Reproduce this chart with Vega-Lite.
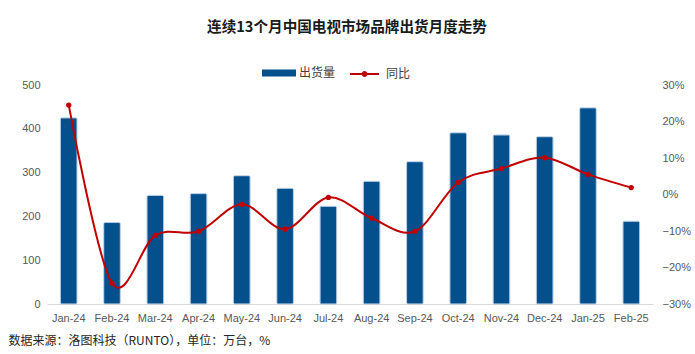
{
  "$schema": "https://vega.github.io/schema/vega-lite/v6.json",
  "width": 606,
  "height": 219,
  "autosize": {"type": "none"},
  "padding": {"left": 47, "top": 85, "right": 42, "bottom": 50},
  "background": "white",
  "title": {
    "text": "连续13个月中国电视市场品牌出货月度走势",
    "anchor": "middle",
    "frame": "group",
    "font": "Noto Sans CJK SC",
    "fontSize": 14.6,
    "fontWeight": "bold",
    "color": "#1a1a1a",
    "offset": 21,
    "dx": -3
  },
  "config": {
    "view": {"stroke": null},
    "axis": {"labelFont": "Liberation Sans", "labelFontSize": 11, "labelColor": "#595959", "grid": false, "ticks": false},
    "legend": {"labelFont": "Noto Sans CJK SC", "labelFontSize": 12, "labelColor": "#404040", "padding": 0}
  },
  "data": {
    "values": [
      {"month": "Jan-24", "shipments": 425, "yoy": 0.245},
      {"month": "Feb-24", "shipments": 186, "yoy": -0.243},
      {"month": "Mar-24", "shipments": 248, "yoy": -0.112},
      {"month": "Apr-24", "shipments": 252, "yoy": -0.101},
      {"month": "May-24", "shipments": 293, "yoy": -0.027},
      {"month": "Jun-24", "shipments": 264, "yoy": -0.095},
      {"month": "Jul-24", "shipments": 223, "yoy": -0.008},
      {"month": "Aug-24", "shipments": 280, "yoy": -0.065},
      {"month": "Sep-24", "shipments": 325, "yoy": -0.101},
      {"month": "Oct-24", "shipments": 391, "yoy": 0.033},
      {"month": "Nov-24", "shipments": 386, "yoy": 0.071},
      {"month": "Dec-24", "shipments": 382, "yoy": 0.101},
      {"month": "Jan-25", "shipments": 448, "yoy": 0.055},
      {"month": "Feb-25", "shipments": 189, "yoy": 0.019}
    ]
  },
  "encoding": {
    "x": {
      "field": "month",
      "type": "ordinal",
      "sort": null,
      "scale": {"paddingInner": 0.615, "paddingOuter": 0.31},
      "axis": {
        "labelAngle": 0,
        "labelPadding": 8,
        "domainColor": "#d9d9d9",
        "domainWidth": 1,
        "title": "数据来源：洛图科技（RUNTO），单位：万台，%",
        "titleFont": "Noto Sans CJK SC",
        "titleFontSize": 12,
        "titleFontWeight": "normal",
        "titleColor": "#262626",
        "titleAnchor": "start",
        "titleAlign": "left",
        "titleBaseline": "middle",
        "titleX": -39,
        "titleY": 36
      }
    }
  },
  "layer": [
    {
      "mark": {"type": "bar", "stroke": "#a8c3de", "strokeWidth": 0.8, "cornerRadius": 1.5},
      "encoding": {
        "y": {
          "field": "shipments",
          "type": "quantitative",
          "scale": {"domain": [0, 500]},
          "axis": {"title": null, "domain": false, "tickCount": 5, "labelPadding": 7}
        },
        "fill": {
          "datum": "出货量",
          "scale": {"range": ["#03508d"]},
          "legend": {
            "title": null,
            "orient": "none",
            "legendX": 215,
            "legendY": -29,
            "symbolType": "M-1,-0.2H1V0.2H-1Z",
            "symbolSize": 1156,
            "symbolStrokeWidth": 0,
            "labelOffset": 3
          }
        }
      }
    },
    {
      "mark": {"type": "line", "interpolate": "cardinal", "strokeWidth": 2},
      "encoding": {
        "y": {
          "field": "yoy",
          "type": "quantitative",
          "scale": {"domain": [-0.3, 0.3]},
          "axis": {"title": null, "orient": "right", "format": ".0%", "domain": false, "tickCount": 6, "labelPadding": 9}
        },
        "stroke": {
          "datum": "同比",
          "scale": {"range": ["#c00000"]},
          "legend": {
            "title": null,
            "orient": "none",
            "legendX": 302,
            "legendY": -26.5,
            "symbolType": "M-1,0H1M0.13,0A0.13,0.13 0 1,1 -0.13,0A0.13,0.13 0 1,1 0.13,0",
            "symbolSize": 841,
            "symbolStrokeWidth": 2,
            "symbolFillColor": "#c00000",
            "labelOffset": 6
          }
        }
      }
    },
    {
      "mark": {"type": "point", "filled": true, "size": 28, "color": "#c00000", "opacity": 1},
      "encoding": {
        "y": {"field": "yoy", "type": "quantitative", "scale": {"domain": [-0.3, 0.3]}, "axis": null}
      }
    }
  ],
  "resolve": {"scale": {"y": "independent", "fill": "independent", "stroke": "independent"}}
}
